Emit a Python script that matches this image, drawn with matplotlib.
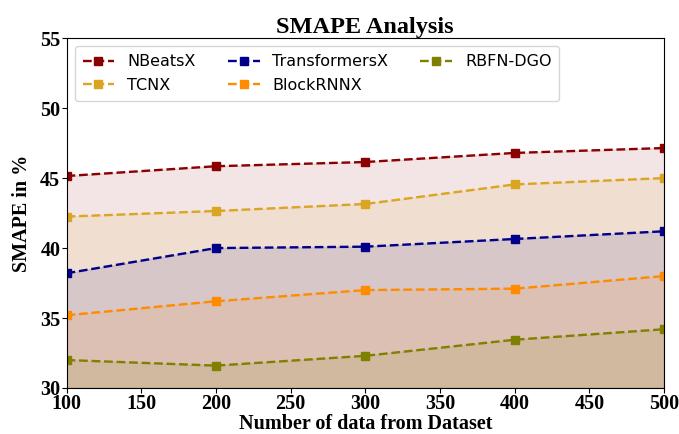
import matplotlib
matplotlib.use("Agg")
import matplotlib.pyplot as plt

x = [100, 200, 300, 400, 500]
series_names = ["NBeatsX", "TCNX", "TransformersX", "BlockRNNX", "RBFN-DGO"]
nbeatsx = [45.15, 45.85, 46.15, 46.8, 47.15]
tcnx = [42.25, 42.65, 43.15, 44.55, 45.0]
transformersx = [38.2, 40.0, 40.1, 40.65, 41.2]
blockrnnx = [35.2, 36.2, 37.0, 37.1, 38.0]
rbfn_dgo = [32.0, 31.6, 32.3, 33.45, 34.2]
colors = ["darkred", "goldenrod", "darkblue", "darkorange", "olive"]

fig = plt.figure(figsize=(6.79, 4.34), dpi=100)
ax = fig.add_axes([0.098, 0.106, 0.880, 0.806])

all_series = [nbeatsx, tcnx, transformersx, blockrnnx, rbfn_dgo]
for name, ys, c in zip(series_names, all_series, colors):
    ax.plot(x, ys, linestyle="--", marker="s", color=c, linewidth=1.7, markersize=5.5, label=name)
    ax.fill_between(x, ys, 30, color=c, alpha=0.1)

ax.set_xlim(100, 500)
ax.set_ylim(30, 55)
ax.set_xticks([100, 150, 200, 250, 300, 350, 400, 450, 500])
ax.set_yticks([30, 35, 40, 45, 50, 55])
serif = ["Liberation Serif", "DejaVu Serif"]
for lab in ax.get_xticklabels() + ax.get_yticklabels():
    lab.set_fontfamily(serif)
    lab.set_fontweight("bold")
    lab.set_fontsize(14.5)
ax.tick_params(axis="both", pad=1)
ax.set_xlabel("Number of data from Dataset", fontfamily=serif, fontweight="bold", fontsize=14.5, labelpad=0)
ax.set_ylabel("SMAPE in %", fontfamily=serif, fontweight="bold", fontsize=14.5, labelpad=6)
ax.set_title("SMAPE Analysis", fontfamily=serif, fontweight="bold", fontsize=17.5, pad=2)
ax.legend(loc="upper left", ncol=3, fontsize=11.5, frameon=True, borderpad=0.5,
          columnspacing=2.0, handlelength=2.0, labelspacing=0.55)

fig.savefig("out.png", dpi=100)
